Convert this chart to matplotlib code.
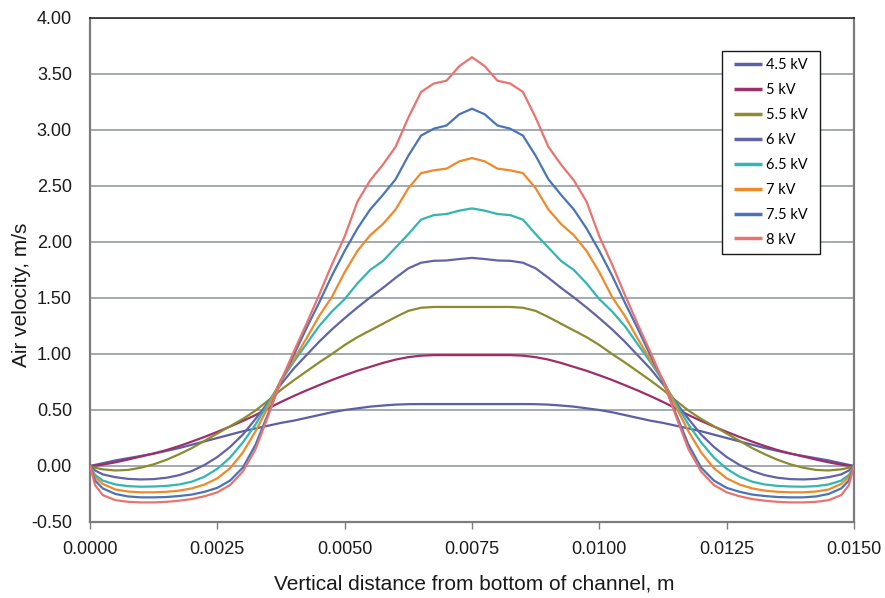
import numpy as np
import matplotlib
matplotlib.use("Agg")
import matplotlib.pyplot as plt
from matplotlib.patches import Rectangle
from matplotlib.ticker import FormatStrFormatter, MultipleLocator

# Sample positions across the channel (mm)
x_mm = [0, 0.1, 0.25, 0.5, 0.75, 1.0, 1.25, 1.5, 1.75, 2.0, 2.25, 2.5, 2.75,
        3.0, 3.25, 3.5, 3.75, 4.0, 4.25, 4.5, 4.75, 5.0, 5.25, 5.5, 5.75,
        6.0, 6.25, 6.5, 6.75, 7.0, 7.25, 7.5, 7.75, 8.0, 8.25, 8.5, 8.75,
        9.0, 9.25, 9.5, 9.75, 10.0, 10.25, 10.5, 10.75, 11.0, 11.25, 11.5,
        11.75, 12.0, 12.25, 12.5, 12.75, 13.0, 13.25, 13.5, 13.75, 14.0,
        14.25, 14.5, 14.75, 14.9, 15.0]

# Air velocity profiles (m/s) for each applied voltage
v_4_5kV = [0, 0.01, 0.025, 0.05, 0.07, 0.09, 0.11, 0.135, 0.16, 0.19, 0.22, 0.25, 0.28,
           0.31, 0.335, 0.36, 0.385, 0.405, 0.43, 0.455, 0.48, 0.50, 0.515, 0.53, 0.54,
           0.548, 0.552, 0.553, 0.553, 0.553, 0.553, 0.553,
           0.553, 0.553, 0.553, 0.553, 0.552, 0.548, 0.54, 0.53, 0.515, 0.50, 0.48,
           0.455, 0.43, 0.405, 0.385, 0.36, 0.335, 0.31, 0.28, 0.25, 0.22, 0.19, 0.16,
           0.135, 0.11, 0.09, 0.07, 0.05, 0.025, 0.01, 0]
v_5kV = [0, 0.004, 0.012, 0.033, 0.058, 0.085, 0.112, 0.142, 0.178, 0.218, 0.26, 0.305,
         0.352, 0.402, 0.455, 0.515, 0.572, 0.625, 0.675, 0.722, 0.768, 0.81, 0.85, 0.885,
         0.92, 0.95, 0.972, 0.985, 0.99, 0.99, 0.99, 0.99,
         0.99, 0.99, 0.99, 0.985, 0.972, 0.95, 0.92, 0.885, 0.85, 0.81, 0.768, 0.722,
         0.675, 0.625, 0.572, 0.515, 0.455, 0.402, 0.352, 0.305, 0.26, 0.218, 0.178,
         0.142, 0.112, 0.085, 0.058, 0.033, 0.012, 0.004, 0]
v_5_5kV = [0, -0.015, -0.03, -0.04, -0.035, -0.015, 0.015, 0.055, 0.105, 0.16, 0.225, 0.29,
           0.355, 0.42, 0.495, 0.585, 0.68, 0.765, 0.845, 0.925, 1.0, 1.08, 1.15, 1.21,
           1.27, 1.33, 1.385, 1.413, 1.42, 1.42, 1.42, 1.42,
           1.42, 1.42, 1.42, 1.413, 1.385, 1.33, 1.27, 1.21, 1.15, 1.08, 1.0, 0.925,
           0.845, 0.765, 0.68, 0.585, 0.495, 0.42, 0.355, 0.29, 0.225, 0.16, 0.105,
           0.055, 0.015, -0.015, -0.035, -0.04, -0.03, -0.015, 0]
v_6kV = [0, -0.04, -0.075, -0.10, -0.115, -0.12, -0.117, -0.105, -0.082, -0.045, 0.01, 0.08,
         0.17, 0.28, 0.42, 0.57, 0.73, 0.87, 0.99, 1.11, 1.22, 1.32, 1.415, 1.505, 1.59,
         1.68, 1.765, 1.815, 1.832, 1.835, 1.848, 1.858,
         1.848, 1.835, 1.832, 1.815, 1.765, 1.68, 1.59, 1.505, 1.415, 1.32, 1.22, 1.11,
         0.99, 0.87, 0.73, 0.57, 0.42, 0.28, 0.17, 0.08, 0.01, -0.045, -0.082, -0.105,
         -0.117, -0.12, -0.115, -0.10, -0.075, -0.04, 0]
v_6_5kV = [0, -0.08, -0.13, -0.165, -0.18, -0.185, -0.183, -0.178, -0.165, -0.14, -0.095,
           -0.025, 0.075, 0.21, 0.37, 0.56, 0.76, 0.93, 1.09, 1.25, 1.38, 1.49, 1.63, 1.75,
           1.83, 1.95, 2.07, 2.2, 2.24, 2.25, 2.28, 2.30,
           2.28, 2.25, 2.24, 2.2, 2.07, 1.95, 1.83, 1.75, 1.63, 1.49, 1.38, 1.25, 1.09,
           0.93, 0.76, 0.56, 0.37, 0.21, 0.075, -0.025, -0.095, -0.14, -0.165, -0.178,
           -0.183, -0.185, -0.18, -0.165, -0.13, -0.08, 0]
v_7kV = [0, -0.1, -0.16, -0.21, -0.228, -0.235, -0.235, -0.23, -0.22, -0.2, -0.165, -0.11,
         -0.02, 0.12, 0.31, 0.53, 0.77, 0.95, 1.14, 1.34, 1.51, 1.73, 1.92, 2.06, 2.16,
         2.29, 2.48, 2.615, 2.64, 2.655, 2.72, 2.75,
         2.72, 2.655, 2.64, 2.615, 2.48, 2.29, 2.16, 2.06, 1.92, 1.73, 1.51, 1.34, 1.14,
         0.95, 0.77, 0.53, 0.31, 0.12, -0.02, -0.11, -0.165, -0.2, -0.22, -0.23, -0.235,
         -0.235, -0.228, -0.21, -0.16, -0.1, 0]
v_7_5kV = [0, -0.13, -0.20, -0.25, -0.272, -0.28, -0.28, -0.277, -0.268, -0.255, -0.23,
           -0.195, -0.13, -0.015, 0.19, 0.47, 0.76, 0.99, 1.23, 1.46, 1.70, 1.92, 2.12,
           2.29, 2.42, 2.56, 2.77, 2.95, 3.012, 3.04, 3.14, 3.19,
           3.14, 3.04, 3.012, 2.95, 2.77, 2.56, 2.42, 2.29, 2.12, 1.92, 1.70, 1.46, 1.23,
           0.99, 0.76, 0.47, 0.19, -0.015, -0.13, -0.195, -0.23, -0.255, -0.268, -0.277,
           -0.28, -0.28, -0.272, -0.25, -0.20, -0.13, 0]
v_8kV = [0, -0.17, -0.26, -0.305, -0.32, -0.325, -0.325, -0.32, -0.31, -0.295, -0.27,
         -0.235, -0.17, -0.05, 0.15, 0.45, 0.76, 1.02, 1.27, 1.53, 1.80, 2.05, 2.36, 2.55,
         2.69, 2.85, 3.11, 3.34, 3.415, 3.44, 3.57, 3.65,
         3.57, 3.44, 3.415, 3.34, 3.11, 2.85, 2.69, 2.55, 2.36, 2.05, 1.80, 1.53, 1.27,
         1.02, 0.76, 0.45, 0.15, -0.05, -0.17, -0.235, -0.27, -0.295, -0.31, -0.32,
         -0.325, -0.325, -0.32, -0.305, -0.26, -0.17, 0]

labels = ["4.5 kV", "5 kV", "5.5 kV", "6 kV", "6.5 kV", "7 kV", "7.5 kV", "8 kV"]
series = [v_4_5kV, v_5kV, v_5_5kV, v_6kV, v_6_5kV, v_7kV, v_7_5kV, v_8kV]
colors = ["#5b5fa3", "#9c2f69", "#8c8b2f", "#6164a5", "#33b5b0", "#ee8a2b",
          "#4a73b8", "#e8736f"]

x_m = np.array(x_mm) / 1000.0

W, H = 885, 598
fig = plt.figure(figsize=(W / 100, H / 100), dpi=100)
ax = fig.add_axes([90 / W, 76 / H, (854 - 90) / W, (522 - 18) / H])

for vals, lab, col in zip(series, labels, colors):
    ax.plot(x_m, vals, color=col, lw=1.6, label=lab, solid_capstyle="round",
            solid_joinstyle="round", zorder=3)

ax.set_xlim(0, 0.015)
ax.set_ylim(-0.5, 4.0)
ax.xaxis.set_major_locator(MultipleLocator(0.0025))
ax.yaxis.set_major_locator(MultipleLocator(0.5))
ax.xaxis.set_major_formatter(FormatStrFormatter("%.4f"))
ax.yaxis.set_major_formatter(FormatStrFormatter("%.2f"))

ax.grid(axis="y", color="#89929b", lw=1.1, zorder=1)
ax.set_axisbelow(True)

for side in ["left", "right", "bottom"]:
    ax.spines[side].set_color("#7c7c7c")
    ax.spines[side].set_linewidth(1.6)
ax.spines["top"].set_color("#1a1a1a")
ax.spines["top"].set_linewidth(1.1)

font = "Liberation Sans"
ax.tick_params(axis="x", direction="out", length=5, width=1, color="#7c7c7c",
               pad=9, labelsize=13, labelcolor="#1a1a1a")
ax.tick_params(axis="y", length=0, pad=13, labelsize=13, labelcolor="#1a1a1a")
for t in ax.get_xticklabels() + ax.get_yticklabels():
    t.set_fontfamily(font)

ax.set_xlabel("Vertical distance from bottom of channel, m", fontsize=15,
              family=font, color="#1a1a1a")
ax.set_ylabel("Air velocity, m/s", fontsize=15, family=font, color="#1a1a1a")
ax.xaxis.set_label_coords(0.5026, -0.104)
ax.yaxis.set_label_coords(-0.077, 0.45)

# Legend box: white panel with a thin dark border
box_l, box_t, box_r, box_b = 722, 51, 820, 254
ax.add_patch(Rectangle((box_l / W, 1 - box_b / H), (box_r - box_l) / W,
                       (box_b - box_t) / H, transform=fig.transFigure,
                       facecolor="white", edgecolor="#1a1a1a", lw=1.0,
                       clip_on=False, zorder=4.5))

leg = ax.legend(loc="upper left", bbox_to_anchor=(734 / W, 1 - 58 / H),
                bbox_transform=fig.transFigure, frameon=False,
                prop={"family": "Lato", "size": 10.5},
                handlelength=1.9, handletextpad=0.27, labelspacing=0.75,
                borderpad=0, borderaxespad=0)
leg.set_zorder(5)
for line in leg.get_lines():
    line.set_linewidth(2.5)
    line.set_solid_capstyle("butt")

fig.savefig("out.png", dpi=100)
